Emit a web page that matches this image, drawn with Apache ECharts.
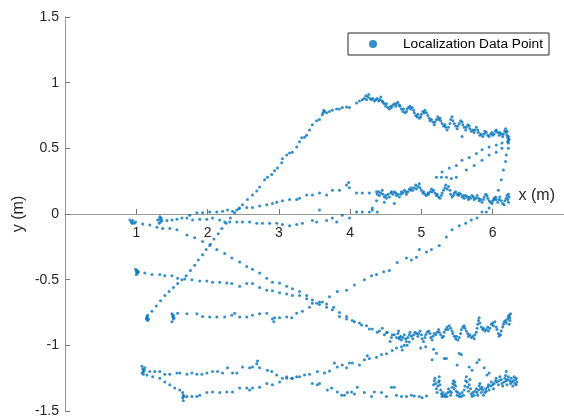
<!DOCTYPE html>
<html>
<head>
<meta charset="utf-8">
<script src="https://cdn.jsdelivr.net/npm/echarts@6/dist/echarts.min.js"></script>
<style>html,body{margin:0;padding:0;background:#fff}#chart{width:564px;height:420px}</style>
</head>
<body>
<div id="chart"></div>
<script>
// Localization track, one array per leg of the route: [x (m), y (m)]
const riseArc = [[1.14,-0.80],[1.15,-0.79],[1.16,-0.81],[1.15,-0.78],[1.17,-0.80],[1.16,-0.77],
  [1.22,-0.74],[1.28,-0.70],[1.34,-0.66],[1.40,-0.62],[1.46,-0.59],[1.52,-0.56],[1.58,-0.53],[1.64,-0.50],
  [1.70,-0.47],[1.76,-0.43],[1.82,-0.39],[1.87,-0.35],[1.93,-0.31],[1.98,-0.27],[2.04,-0.23],[2.09,-0.19],
  [2.15,-0.15],[2.20,-0.11],[2.26,-0.07],[2.32,-0.03],[2.38,0.01],[2.44,0.04],[2.49,0.07],[2.56,0.11],
  [2.63,0.145],[2.69,0.175],[2.73,0.205],[2.80,0.26],[2.84,0.28],[2.90,0.30],[2.94,0.33],[2.98,0.35],
  [3.04,0.39],[3.05,0.42],[3.11,0.45],[3.15,0.465],[3.19,0.47],[3.25,0.51],[3.29,0.55],[3.32,0.58],
  [3.36,0.585],[3.39,0.60],[3.43,0.64],[3.47,0.68],[3.53,0.71],[3.57,0.72],[3.61,0.755],[3.62,0.77],
  [3.63,0.79],[3.64,0.78],[3.67,0.77],[3.71,0.78],[3.75,0.79],[3.81,0.80],[3.85,0.80],[3.89,0.81],
  [3.95,0.815],[3.99,0.81],[4.09,0.845],[4.13,0.86],[4.17,0.87]];

const crestWave = [[4.20,0.88],[4.22,0.90],[4.23,0.87],[4.25,0.89],[4.26,0.91],[4.28,0.88],[4.30,0.87],
  [4.32,0.88],[4.34,0.86],[4.36,0.87],[4.38,0.88],[4.40,0.86],[4.42,0.87],[4.43,0.89],[4.45,0.86],[4.46,0.85],
  [4.48,0.84],[4.50,0.82],[4.51,0.84],[4.53,0.81],[4.55,0.80],[4.57,0.82],[4.58,0.81],[4.60,0.83],[4.62,0.84],
  [4.64,0.82],[4.65,0.84],[4.67,0.85],[4.69,0.83],[4.70,0.82],[4.72,0.80],[4.74,0.78],[4.75,0.80],[4.77,0.77],
  [4.79,0.78],[4.80,0.80],[4.82,0.81],[4.84,0.82],[4.85,0.80],[4.87,0.81],[4.89,0.79],[4.90,0.77],[4.92,0.75],
  [4.94,0.74],[4.95,0.76],[4.97,0.73],[4.99,0.74],[5.00,0.76],[5.02,0.78],[5.04,0.77],[5.05,0.79],[5.07,0.77],
  [5.09,0.75],[5.11,0.73],[5.12,0.71],[5.14,0.72],[5.16,0.70],[5.18,0.68],[5.19,0.70],[5.21,0.72],[5.23,0.74],
  [5.24,0.72],[5.26,0.73],[5.27,0.71],[5.29,0.69],[5.31,0.67],[5.33,0.68],[5.34,0.66],[5.36,0.64],[5.38,0.66],
  [5.40,0.69],[5.41,0.72],[5.43,0.74],[5.44,0.71],[5.46,0.69],[5.48,0.67],[5.50,0.65],[5.51,0.67],[5.53,0.69],
  [5.55,0.71],[5.57,0.70],[5.58,0.68],[5.60,0.66],[5.62,0.64],[5.63,0.66],[5.65,0.68],[5.67,0.67],[5.68,0.65],
  [5.70,0.63],[5.72,0.64],[5.74,0.62],[5.75,0.64],[5.77,0.66],[5.79,0.64],[5.80,0.62],[5.82,0.60],[5.84,0.61],
  [5.86,0.59],[5.88,0.61],[5.89,0.63],[5.91,0.62],[5.93,0.60],[5.95,0.59],[5.97,0.61],[5.99,0.62],[6.00,0.60],
  [6.02,0.61],[6.04,0.63],[6.05,0.64],[6.07,0.62],[6.09,0.60],[6.10,0.62],[6.12,0.61],[6.14,0.59],[6.15,0.61],
  [6.17,0.63],[6.18,0.65],[6.19,0.62],[6.20,0.60],[6.21,0.58],[6.22,0.56],[6.22,0.54],[6.23,0.57],[6.21,0.55],
  [6.22,0.59],[6.20,0.63],[5.57,0.59]];

const nearAxisLeg = [[1.30,-0.046],[1.33,-0.02],[1.33,-0.04],[1.34,-0.06],[1.32,-0.07],[1.35,-0.03],
  [1.36,-0.05],[1.43,-0.05],[1.50,-0.045],[1.57,-0.04],[1.64,-0.03],[1.71,-0.03],[1.79,-0.045],[1.89,-0.04],
  [1.99,-0.04],[2.07,-0.03],[2.17,-0.045],[2.24,-0.06],[2.31,-0.06],[2.41,-0.06],[2.49,-0.06],[2.59,-0.06],
  [2.69,-0.07],[2.77,-0.07],[2.87,-0.07],[2.97,-0.07],[3.05,-0.08],[3.15,-0.09],[3.25,-0.08],[3.33,-0.07],
  [3.47,-0.05],[3.53,-0.06],[3.67,-0.05],[3.75,-0.03],[3.81,-0.06],[3.89,-0.01],[3.99,-0.03],[4.09,0.015],
  [4.17,0.015],[4.27,0.015],[4.31,0.045],[4.38,0.015],[3.57,0.03]];

const shallowClimb = [[1.75,-0.01],[1.85,0.01],[1.93,0.01],[2.03,0.015],[2.13,0.015],[2.21,0.02],[2.28,0.03],
  [2.35,0.02],[2.41,0.03],[2.45,0.045],[2.55,0.05],[2.63,0.05],[2.73,0.06],[2.83,0.07],[2.91,0.08],[2.97,0.09],
  [3.05,0.10],[3.15,0.11],[3.25,0.11],[3.29,0.12],[3.39,0.145],[3.47,0.145],[3.57,0.16],[3.67,0.145],
  [3.75,0.18],[3.85,0.18],[3.95,0.22],[3.98,0.24],[3.99,0.20],[4.09,0.16],[4.17,0.16],[4.27,0.16],[4.37,0.17]];

const midWave = [[4.38,0.15],[4.40,0.17],[4.41,0.14],[4.43,0.16],[4.45,0.18],[4.46,0.15],[4.48,0.13],
  [4.50,0.14],[4.51,0.12],[4.53,0.15],[4.55,0.13],[4.57,0.16],[4.58,0.17],[4.60,0.15],[4.62,0.17],[4.64,0.16],
  [4.65,0.14],[4.67,0.15],[4.69,0.13],[4.71,0.15],[4.72,0.17],[4.74,0.16],[4.76,0.18],[4.78,0.17],[4.79,0.15],
  [4.81,0.17],[4.83,0.19],[4.85,0.18],[4.86,0.20],[4.88,0.18],[4.90,0.20],[4.92,0.22],[4.93,0.19],[4.95,0.21],
  [4.97,0.23],[4.98,0.20],[5.00,0.18],[5.02,0.16],[5.03,0.17],[5.05,0.15],[5.07,0.14],[5.09,0.16],[5.10,0.15],
  [5.12,0.17],[5.14,0.19],[5.15,0.17],[5.17,0.18],[5.19,0.16],[5.21,0.14],[5.22,0.15],[5.24,0.13],[5.26,0.12],
  [5.28,0.14],[5.29,0.16],[5.31,0.18],[5.33,0.20],[5.34,0.22],[5.36,0.19],[5.38,0.21],[5.40,0.18],[5.41,0.15],
  [5.43,0.13],[5.45,0.14],[5.46,0.16],[5.48,0.17],[5.50,0.15],[5.52,0.14],[5.53,0.16],[5.55,0.15],[5.57,0.13],
  [5.59,0.14],[5.60,0.12],[5.62,0.14],[5.64,0.13],[5.66,0.11],[5.67,0.13],[5.69,0.12],[5.71,0.14],[5.73,0.13],
  [5.74,0.11],[5.76,0.12],[5.78,0.14],[5.80,0.12],[5.81,0.10],[5.83,0.11],[5.85,0.09],[5.87,0.11],[5.88,0.13],
  [5.90,0.15],[5.92,0.14],[5.93,0.12],[5.95,0.10],[5.97,0.09],[5.99,0.08],[6.00,0.10],[6.02,0.12],[6.04,0.13],
  [6.05,0.11],[6.07,0.09],[6.09,0.11],[6.10,0.13],[6.12,0.10],[6.14,0.08],[6.16,0.07],[6.17,0.10],[6.19,0.12],
  [6.20,0.14],[6.21,0.11],[6.22,0.09],[6.23,0.13],[6.22,0.15],[4.31,0.03],[4.37,0.10],[4.48,0.09],[4.62,0.08]];

const returnLegs = [[5.21,0.28],[5.29,0.32],[5.39,0.35],[5.49,0.37],[5.57,0.41],[5.67,0.43],[5.77,0.46],
  [5.85,0.49],[5.95,0.51],[6.05,0.525],[6.13,0.54],[5.35,0.28],[5.49,0.28],[5.63,0.335],[5.74,0.37],
  [5.85,0.41],[5.95,0.45],[6.05,0.47],[6.13,0.50],[5.28,0.28],[5.42,0.27]];

const upperDescent = [[0.91,-0.045],[0.93,-0.06],[0.95,-0.05],[0.97,-0.07],[0.99,-0.06],[0.94,-0.07],
  [1.09,-0.076],[1.19,-0.084],[1.29,-0.10],[1.37,-0.11],[1.47,-0.11],[1.57,-0.12],[1.71,-0.16],[1.82,-0.18],
  [1.93,-0.21],[2.03,-0.24],[2.13,-0.27],[2.24,-0.30],[2.34,-0.335],[2.45,-0.365],[2.55,-0.40],[2.63,-0.42],
  [2.73,-0.45],[2.83,-0.49],[2.91,-0.52],[3.01,-0.525],[3.11,-0.55],[3.19,-0.57],[3.29,-0.59],[3.39,-0.62],
  [3.47,-0.655],[3.57,-0.67],[3.67,-0.685],[3.77,-0.71],[3.85,-0.75],[3.95,-0.78],[4.03,-0.81],[4.13,-0.83],
  [4.23,-0.85],[4.31,-0.875],[4.41,-0.89],[4.51,-0.905],[4.59,-0.92],[4.69,-0.94]];

const middleDescent = [[0.99,-0.42],[1.00,-0.44],[1.01,-0.43],[1.02,-0.45],[1.00,-0.46],[1.03,-0.44],
  [1.12,-0.45],[1.22,-0.46],[1.33,-0.46],[1.40,-0.47],[1.50,-0.47],[1.58,-0.49],[1.68,-0.495],[1.78,-0.50],
  [1.89,-0.51],[1.99,-0.51],[2.07,-0.52],[2.17,-0.52],[2.27,-0.525],[2.34,-0.53],[2.45,-0.55],[2.55,-0.53],
  [2.63,-0.53],[2.73,-0.56],[2.83,-0.58],[2.91,-0.585],[3.01,-0.60],[3.11,-0.61],[3.19,-0.62],[3.29,-0.62],
  [3.39,-0.645],[3.47,-0.68],[3.57,-0.69],[3.67,-0.71],[3.75,-0.73],[3.85,-0.78],[3.95,-0.80],[4.06,-0.82],
  [4.16,-0.845],[4.27,-0.875],[4.38,-0.90],[4.48,-0.92],[4.58,-0.94]];

const lowerClimb = [[1.50,-0.76],[1.51,-0.78],[1.52,-0.80],[1.50,-0.82],[1.53,-0.79],[1.52,-0.77],
  [1.58,-0.755],[1.71,-0.76],[1.85,-0.76],[1.93,-0.78],[2.03,-0.785],[2.13,-0.785],[2.24,-0.785],[2.34,-0.77],
  [2.38,-0.755],[2.45,-0.785],[2.55,-0.785],[2.63,-0.77],[2.73,-0.76],[2.83,-0.755],[2.91,-0.80],[2.93,-0.82],
  [2.94,-0.79],[3.01,-0.79],[3.11,-0.785],[3.18,-0.79],[3.25,-0.755],[3.33,-0.74],[3.43,-0.71],[3.53,-0.68],
  [3.61,-0.67],[3.71,-0.63],[3.82,-0.59],[3.95,-0.58],[4.06,-0.54],[4.20,-0.50],[4.30,-0.47],[4.37,-0.46],
  [4.47,-0.44],[4.55,-0.43],[4.66,-0.37],[4.79,-0.335],[4.86,-0.35],[4.93,-0.33],[4.97,-0.27],[5.07,-0.29],
  [5.14,-0.27],[5.25,-0.24],[5.35,-0.175],[5.43,-0.12],[5.53,-0.09],[5.62,-0.07],[5.70,-0.045],[5.78,-0.03],
  [5.85,0.015],[5.91,0.015],[5.95,0.045],[6.02,0.11],[6.08,0.18],[6.12,0.26],[6.15,0.335],[6.18,0.40],
  [6.19,0.45],[6.22,0.50]];

const lowBand = [[4.62,-0.92],[4.65,-0.94],[4.67,-0.91],[4.69,-0.95],[4.71,-0.93],[4.72,-0.96],[4.74,-0.94],
  [4.76,-0.92],[4.78,-0.95],[4.79,-0.97],[4.81,-0.94],[4.83,-0.92],[4.84,-0.90],[4.86,-0.93],[4.88,-0.95],
  [4.89,-0.92],[4.91,-0.90],[4.93,-0.91],[4.95,-0.93],[4.96,-0.91],[4.98,-0.89],[5.00,-0.92],[5.01,-0.95],
  [5.03,-0.97],[5.05,-0.94],[5.06,-0.92],[5.08,-0.90],[5.10,-0.89],[5.12,-0.91],[5.13,-0.94],[5.15,-0.96],
  [5.16,-0.93],[5.18,-0.91],[5.20,-0.92],[5.22,-0.90],[5.24,-0.88],[5.25,-0.90],[5.27,-0.92],[5.29,-0.94],
  [5.31,-0.93],[5.32,-0.90],[5.34,-0.88],[5.36,-0.86],[5.37,-0.88],[5.39,-0.85],[5.41,-0.87],[5.43,-0.89],
  [5.44,-0.91],[5.46,-0.93],[5.48,-0.95],[5.49,-0.93],[5.51,-0.96],[5.53,-0.94],[5.55,-0.91],[5.56,-0.88],
  [5.58,-0.86],[5.60,-0.85],[5.61,-0.87],[5.63,-0.89],[5.65,-0.91],[5.66,-0.93],[5.68,-0.92],[5.70,-0.94],
  [5.72,-0.93],[5.74,-0.95],[5.75,-0.92],[5.77,-0.90],[5.78,-0.87],[5.79,-0.84],[5.80,-0.81],[5.81,-0.79],
  [5.82,-0.83],[5.84,-0.86],[5.86,-0.88],[5.87,-0.87],[5.89,-0.89],[5.91,-0.88],[5.93,-0.86],[5.94,-0.89],
  [5.96,-0.87],[5.98,-0.84],[6.00,-0.83],[6.01,-0.85],[6.03,-0.82],[6.05,-0.86],[6.06,-0.88],[6.08,-0.91],
  [6.09,-0.93],[6.11,-0.92],[6.12,-0.89],[6.14,-0.86],[6.15,-0.84],[6.16,-0.82],[6.18,-0.81],[6.19,-0.83],
  [6.21,-0.80],[6.22,-0.78],[6.23,-0.77],[6.24,-0.79],[6.25,-0.76],[6.24,-0.81],[6.23,-0.84],
  [4.56,-0.97],[4.72,-1.01],[4.80,-1.00],[4.99,-1.02],[5.06,-1.01],[5.17,-1.03],[4.68,-0.89],[4.45,-0.87],
  [4.52,-0.90]];

const dropToFloor = [[5.15,-1.11],[5.35,-1.10],[5.53,-1.06],[5.50,-1.15],[5.67,-1.165],[5.71,-1.19],
  [5.81,-1.11],[5.88,-1.17],[5.92,-1.225],[5.95,-1.21],[5.21,-1.06],[5.32,-1.10],[5.56,-1.07],[5.78,-1.13],
  [6.19,-1.20]];

const floorUpperLeg = [[1.08,-1.16],[1.09,-1.18],[1.10,-1.20],[1.08,-1.21],[1.11,-1.19],[1.12,-1.17],
  [1.10,-1.22],[1.19,-1.20],[1.26,-1.20],[1.33,-1.20],[1.40,-1.22],[1.47,-1.22],[1.57,-1.21],[1.61,-1.21],
  [1.71,-1.22],[1.78,-1.21],[1.85,-1.22],[1.92,-1.22],[1.99,-1.21],[2.07,-1.20],[2.14,-1.20],[2.21,-1.21],
  [2.28,-1.17],[2.35,-1.21],[2.41,-1.21],[2.49,-1.165],[2.59,-1.17],[2.63,-1.165],[2.69,-1.14],[2.70,-1.12],
  [2.73,-1.17],[2.84,-1.19],[2.90,-1.20],[2.97,-1.225],[3.05,-1.25],[3.11,-1.24],[3.18,-1.25],[3.25,-1.24],
  [3.36,-1.225],[3.43,-1.22],[3.54,-1.20],[3.64,-1.21],[3.71,-1.195],[3.78,-1.135],[3.82,-1.165],
  [3.89,-1.15],[3.95,-1.17],[3.99,-1.135],[4.03,-1.135],[4.13,-1.15],[4.20,-1.11],[4.24,-1.08],[4.27,-1.10],
  [4.37,-1.09],[4.44,-1.07],[4.51,-1.065],[4.59,-1.04],[4.65,-1.02],[4.73,-1.035],[4.76,-1.00],[4.83,-0.975]];

const floorLowerLeg = [[1.15,-1.225],[1.23,-1.24],[1.33,-1.25],[1.40,-1.28],[1.47,-1.30],[1.54,-1.325],
  [1.61,-1.34],[1.65,-1.36],[1.66,-1.38],[1.65,-1.40],[1.66,-1.42],[1.67,-1.39],[1.71,-1.39],[1.78,-1.39],
  [1.85,-1.39],[1.89,-1.38],[1.99,-1.36],[2.07,-1.355],[2.17,-1.36],[2.27,-1.355],[2.35,-1.355],[2.45,-1.325],
  [2.55,-1.325],[2.59,-1.34],[2.63,-1.325],[2.73,-1.32],[2.83,-1.29],[2.91,-1.30],[3.01,-1.28],[3.11,-1.25],
  [3.19,-1.25],[3.29,-1.24],[3.47,-1.29],[3.54,-1.30],[3.57,-1.29],[3.68,-1.34],[3.74,-1.325],[3.82,-1.355],
  [3.88,-1.38],[3.92,-1.38],[3.96,-1.36],[4.02,-1.355],[4.06,-1.37],[4.10,-1.32],[4.20,-1.36],[4.30,-1.39],
  [4.34,-1.355],[4.44,-1.36],[4.51,-1.39],[4.58,-1.32],[4.62,-1.32],[4.65,-1.38],[4.72,-1.39],[4.79,-1.39],
  [4.86,-1.38],[4.90,-1.385],[4.97,-1.39],[5.01,-1.40],[5.07,-1.385]];

const floorCluster = [[5.17,-1.30],[5.18,-1.27],[5.19,-1.25],[5.20,-1.29],[5.21,-1.33],[5.22,-1.36],
  [5.23,-1.31],[5.24,-1.28],[5.25,-1.24],[5.25,-1.27],[5.26,-1.30],[5.27,-1.34],[5.28,-1.37],[5.29,-1.39],
  [5.30,-1.36],[5.31,-1.38],[5.33,-1.39],[5.34,-1.37],[5.36,-1.39],[5.37,-1.36],[5.38,-1.33],[5.40,-1.35],
  [5.41,-1.38],[5.42,-1.36],[5.43,-1.32],[5.44,-1.29],[5.45,-1.27],[5.46,-1.30],[5.46,-1.33],[5.47,-1.28],
  [5.48,-1.31],[5.49,-1.35],[5.50,-1.38],[5.51,-1.36],[5.53,-1.39],[5.54,-1.37],[5.56,-1.39],[5.57,-1.36],
  [5.59,-1.38],[5.60,-1.34],[5.61,-1.31],[5.62,-1.27],[5.63,-1.24],[5.64,-1.28],[5.65,-1.32],[5.66,-1.35],
  [5.67,-1.30],[5.68,-1.26],[5.69,-1.33],[5.70,-1.37],[5.71,-1.39],[5.72,-1.36],[5.74,-1.38],[5.75,-1.35],
  [5.77,-1.33],[5.78,-1.36],[5.79,-1.38],[5.80,-1.34],[5.81,-1.31],[5.82,-1.29],[5.83,-1.33],[5.84,-1.36],
  [5.85,-1.32],[5.86,-1.34],[5.87,-1.38],[5.89,-1.36],[5.90,-1.33],[5.91,-1.35],[5.93,-1.32],[5.94,-1.30],
  [5.95,-1.34],[5.97,-1.31],[5.98,-1.28],[6.00,-1.30],[6.01,-1.33],[6.02,-1.29],[6.04,-1.27],[6.05,-1.25],
  [6.06,-1.28],[6.08,-1.30],[6.09,-1.27],[6.10,-1.24],[6.12,-1.26],[6.13,-1.29],[6.14,-1.31],[6.16,-1.28],
  [6.17,-1.25],[6.18,-1.23],[6.19,-1.27],[6.20,-1.30],[6.21,-1.26],[6.22,-1.24],[6.24,-1.27],[6.25,-1.29],
  [6.26,-1.25],[6.27,-1.28],[6.28,-1.31],[6.29,-1.27],[6.30,-1.24],[6.31,-1.29],[6.32,-1.26],[6.33,-1.30],
  [6.34,-1.28],[6.33,-1.25]];

// Axis ranges and tick spacing
const xRange = [0, 7];
const xStep = 1;
const yRange = [-1.5, 1.5];
const yStep = 0.5;
const seriesName = 'Localization Data Point';

const points = [].concat(riseArc, crestWave, nearAxisLeg, shallowClimb, midWave, returnLegs,
  upperDescent, middleDescent, lowerClimb, lowBand, dropToFloor, floorUpperLeg, floorLowerLeg, floorCluster);

const font = '"Liberation Sans", Arial, Helvetica, sans-serif';
const gridBox = { left: 65, right: 0, top: 17, bottom: 9 };
const plotHeight = 420 - gridBox.top - gridBox.bottom;
// the x axis sits on y = 0 inside the y range
const zeroLift = -plotHeight * (0 - yRange[0]) / (yRange[1] - yRange[0]);

const chart = echarts.init(document.getElementById('chart'), null, { renderer: 'canvas' });
chart.setOption({
  animation: false,
  backgroundColor: '#ffffff',
  grid: Object.assign({ containLabel: false, outerBoundsMode: 'none' }, gridBox),
  legend: {
    data: [seriesName],
    left: 348, top: 33,
    padding: [4, 6, 4, 21],
    itemWidth: 50, itemHeight: 8, itemGap: 0,
    borderColor: '#262626', borderWidth: 1, borderRadius: 0,
    backgroundColor: '#ffffff',
    textStyle: { fontFamily: font, fontSize: 13.7, color: '#000000' }
  },
  xAxis: {
    type: 'value', min: xRange[0], max: xRange[1], interval: xStep,
    position: 'bottom', offset: zeroLift,
    name: 'x (m)', nameLocation: 'end', nameGap: -9, nameMoveOverlap: false,
    nameTextStyle: { fontFamily: font, fontSize: 16, color: '#262626', align: 'right', verticalAlign: 'bottom', padding: [0, 0, 10, 0] },
    axisLine: { onZero: false, lineStyle: { color: '#999999', width: 1 } },
    axisTick: { inside: true, length: 5, lineStyle: { color: '#777777' } },
    axisLabel: { showMinLabel: false, showMaxLabel: false, fontFamily: font, fontSize: 14, margin: 12, color: '#262626' },
    splitLine: { show: false }
  },
  yAxis: {
    type: 'value', min: yRange[0], max: yRange[1], interval: yStep,
    name: 'y (m)', nameLocation: 'middle', nameGap: 38, nameRotate: 90, nameMoveOverlap: false,
    nameTextStyle: { fontFamily: font, fontSize: 16, color: '#262626' },
    axisLine: { onZero: false, lineStyle: { color: '#999999', width: 1 } },
    axisTick: { inside: true, length: 5, lineStyle: { color: '#777777' } },
    axisLabel: { fontFamily: font, fontSize: 14, margin: 6, color: '#262626' },
    splitLine: { show: false }
  },
  series: [{
    name: seriesName,
    type: 'scatter',
    symbol: 'circle',
    symbolSize: 3,
    itemStyle: { color: '#0072BD' },
    data: points
  }]
});
</script>
</body>
</html>
